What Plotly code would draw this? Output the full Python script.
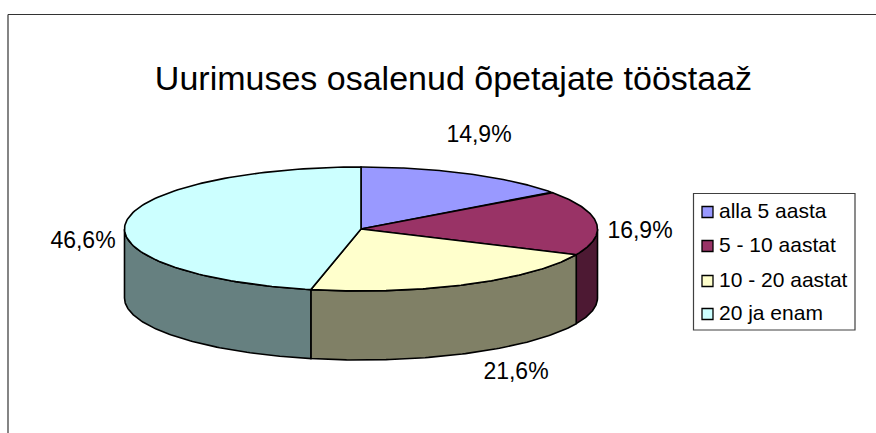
import numpy as np
import plotly.graph_objects as go

title = "Uurimuses osalenud õpetajate tööstaaž"
categories = ["alla 5 aasta", "5 - 10 aastat", "10 - 20 aastat", "20 ja enam"]
values = [14.9, 16.9, 21.6, 46.6]
top_colors = ["#9999FF", "#993366", "#FFFFCC", "#CCFFFF"]
side_colors = ["#4D4D80", "#4D1933", "#808066", "#668080"]

W, H = 876, 433
cx, cy, rx, ry, depth = 361, 229, 236.5, 62, 69
label_pos = [(479, 136), (640, 232), (516, 373), (83, 242)]
leg_x0, leg_x1, leg_y0, leg_y1 = 693.5, 855, 193.5, 330
leg_rows = [212, 246, 281, 314]
OUT = "#000000"


def ellipse(theta, dy=0.0):
    r = np.radians(theta)
    return cx + rx * np.sin(r), cy - ry * np.cos(r) + dy


fig = go.Figure()
edges = np.concatenate([[0], np.cumsum(values)]) * 3.6

# side walls (front half of the rim only)
for i in range(len(values)):
    a, b = max(edges[i], 90), min(edges[i + 1], 270)
    if b <= a:
        continue
    t = np.linspace(a, b, 90)
    x1, y1 = ellipse(t)
    x2, y2 = ellipse(t[::-1], depth)
    fig.add_trace(go.Scatter(
        x=np.concatenate([x1, x2, x1[:1]]), y=np.concatenate([y1, y2, y1[:1]]),
        mode="lines", fill="toself", fillcolor=side_colors[i],
        line=dict(color=OUT, width=1.6), hoverinfo="skip", showlegend=False))

# top faces
for i in range(len(values)):
    t = np.linspace(edges[i], edges[i + 1], 120)
    x1, y1 = ellipse(t)
    fig.add_trace(go.Scatter(
        x=np.concatenate([[cx], x1, [cx]]), y=np.concatenate([[cy], y1, [cy]]),
        mode="lines", fill="toself", fillcolor=top_colors[i],
        line=dict(color=OUT, width=1.6), name=categories[i], showlegend=False))

# percentage labels
fig.add_trace(go.Scatter(
    x=[p[0] for p in label_pos], y=[p[1] for p in label_pos],
    mode="text", text=[f"{v:.1f}%".replace(".", ",") for v in values],
    textposition="middle center",
    textfont=dict(family="Liberation Sans", size=23, color="#000000"),
    hoverinfo="skip", showlegend=False))

# legend
fig.add_shape(type="rect", x0=leg_x0, x1=leg_x1, y0=leg_y0, y1=leg_y1,
              line=dict(color="#404040", width=1.2), fillcolor="white", layer="below")
for i, c in enumerate(categories):
    fig.add_trace(go.Scatter(
        x=[707.5], y=[leg_rows[i]], mode="markers",
        marker=dict(symbol="square", size=11, color=top_colors[i],
                    line=dict(color="#000000", width=1.3)),
        hoverinfo="skip", showlegend=False))
    fig.add_trace(go.Scatter(
        x=[719], y=[leg_rows[i] + 1], mode="text", text=[c], textposition="middle right",
        textfont=dict(family="Liberation Sans", size=21, color="#000000"),
        hoverinfo="skip", showlegend=False))

# chart-area frame (left and top edges)
fig.add_shape(type="line", x0=8, x1=8, y0=14.5, y1=H, line=dict(color="#333333", width=1.2), layer="below")
fig.add_shape(type="line", x0=8, x1=W, y0=14.5, y1=14.5, line=dict(color="#333333", width=1.2), layer="below")

fig.update_layout(
    width=W, height=H, margin=dict(l=0, r=0, t=0, b=0),
    paper_bgcolor="white", plot_bgcolor="white", showlegend=False,
    title=dict(text=title, x=453.5 / W, xanchor="center", y=1 - 78 / H, yanchor="middle",
               font=dict(family="Liberation Sans", size=34, color="#000000")),
    xaxis=dict(range=[0, W], visible=False, fixedrange=True),
    yaxis=dict(range=[H, 0], visible=False, fixedrange=True),
)
fig.write_html("out.html", config=dict(displayModeBar=False),
               post_script="document.body.style.margin='0';document.body.style.overflow='hidden';")
